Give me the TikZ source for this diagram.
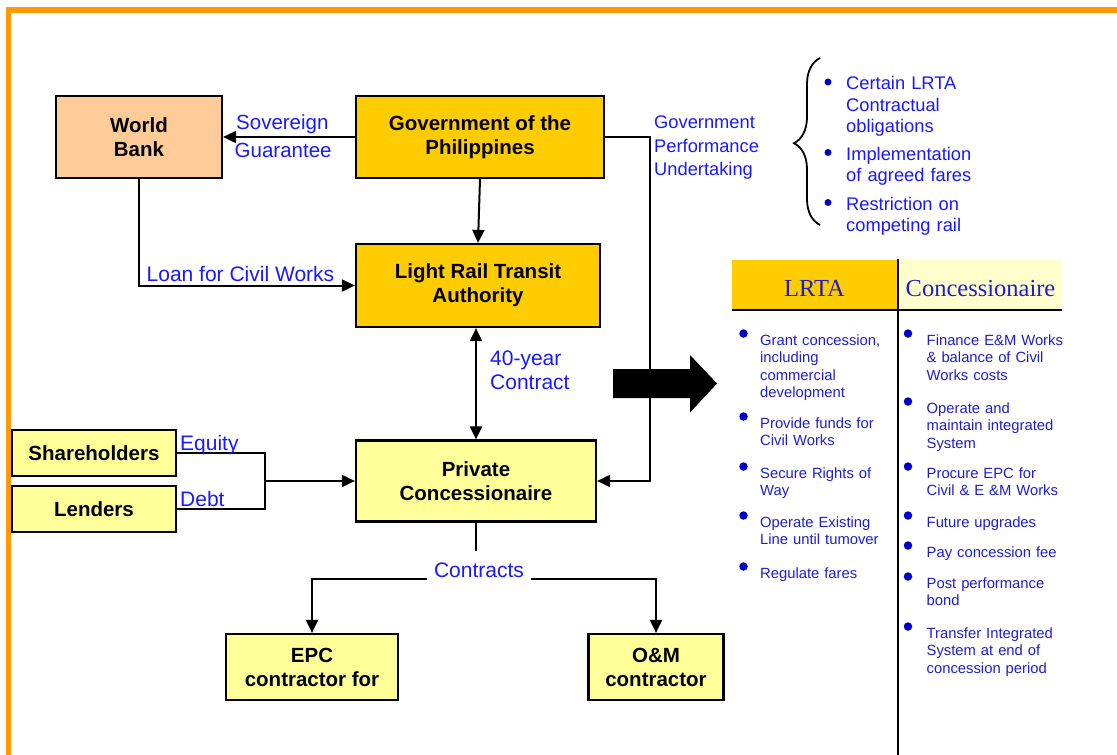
\documentclass[tikz,border=0pt]{standalone}
\usepackage{fontspec}
\setmainfont{Liberation Sans}
\newfontfamily\hdrfont{Liberation Serif}
\usetikzlibrary{arrows.meta,positioning,decorations.pathreplacing,calc}

\definecolor{govgold}{HTML}{FFCC00}
\definecolor{bankpeach}{HTML}{FFCC99}
\definecolor{conyellow}{HTML}{FFFF99}
\definecolor{palecream}{HTML}{FFFFCC}
\definecolor{frameorange}{HTML}{FF9900}
\definecolor{lblblue}{RGB}{25,25,255}
\definecolor{tabblue}{RGB}{30,30,205}
\definecolor{dotblue}{RGB}{0,0,205}

\tikzset{
  party/.style={draw, line width=2.2pt, align=center, inner sep=0pt,
    font=\bfseries\fontsize{20.5}{24}\selectfont},
  lbl/.style={text=lblblue, font=\fontsize{21}{23.5}\selectfont, inner sep=0pt, anchor=base west},
  lbllines/.style={lbl, text width=120pt, align=left},
  conn/.style={line width=2pt},
  hdr/.style={text=tabblue, font=\hdrfont\fontsize{24.5}{26}\selectfont, inner sep=0pt,
    minimum height=50pt, text height=22pt, text depth=0pt},
  tabitem/.style={text=tabblue, font=\fontsize{14.8}{17.5}\selectfont, inner sep=0pt,
    anchor=base west, text width=150pt, align=left},
  tabdot/.style={circle, fill=dotblue, inner sep=0pt, minimum size=8.5pt},
  obitem/.style={text=lblblue, font=\fontsize{18.3}{21.5}\selectfont, inner sep=0pt,
    anchor=base west, text width=150pt, align=left},
  obdot/.style={circle, fill=dotblue, inner sep=0pt, minimum size=7pt},
  >={Triangle[length=13pt,width=12pt]}
}

\begin{document}
\begin{tikzpicture}[x=1pt,y=-1pt]
  \useasboundingbox (0,0) rectangle (1117,755);
  \draw[frameorange, line width=5.3pt] (8.5,755) -- (8.5,10) -- (1117,10);

  % parties
  \node[party, fill=bankpeach, minimum width=166pt, minimum height=82pt] (wb) at (139,137) {World\\Bank};
  \node[party, fill=govgold, minimum width=248pt, minimum height=82pt] (gov) at (480,137) {Government of the\\Philippines};
  \node[party, fill=govgold, minimum width=244pt, minimum height=83pt] (lrta) at (478,285.5) {Light Rail Transit\\Authority};
  \node[party, fill=conyellow, minimum width=240pt, minimum height=81pt] (pc) at (476,481) {Private\\Concessionaire};
  \node[party, fill=conyellow, minimum width=164pt, minimum height=46pt] (sh) at (94,453) {Shareholders};
  \node[party, fill=conyellow, minimum width=164pt, minimum height=46pt] (ln) at (94,509) {Lenders};
  \node[party, fill=conyellow, minimum width=172pt, minimum height=66pt] (epc) at (312,667) {EPC\\contractor for};
  \node[party, fill=conyellow, minimum width=135pt, minimum height=66pt] (om) at (656,667) {O\&M\\contractor};

  % links
  \draw[conn,->] (gov.west) -- (wb.east);
  \node[lbl, font=\fontsize{20.5}{23.5}\selectfont] (sov) at (236,129.5) {Sovereign};
  \node[lbl, font=\fontsize{20.5}{23.5}\selectfont] (guar) at (234.5,157.5) {Guarantee};
  \draw[conn,->] (gov.south) -- (lrta.north);
  \draw[conn,->] (wb.south) |- (lrta.west);
  \node[lbl] (loan) at (146.5,281.5) {Loan for Civil Works};
  \draw[conn,<->] (pc.north |- lrta.south) -- (pc.north);
  \node[lbllines] (term) at (490,365.5) {40-year\\Contract};
  \draw[conn,->] (gov.east) -- ++(45,0) |- (pc.east);
  \node[lbllines, font=\fontsize{18.3}{23.5}\selectfont] (gpu) at (654,128.5) {Government\\Performance\\Undertaking};

  \coordinate (fund) at (265,481);
  \draw[conn] (sh.east) -| (fund) |- (ln.east);
  \draw[conn,->] (fund) -- (pc.west);
  \node[lbl] (eq) at (180,450) {Equity};
  \node[lbl] (debt) at (180,506) {Debt};

  \draw[conn] (pc.south) -- ++(0,28);
  \node[lbl, anchor=base, inner xsep=7pt] (contracts) at (479,577.5) {Contracts};
  \coordinate (split) at (476,579);
  \draw[conn,->] (split -| contracts.west) -| (epc.north);
  \draw[conn,->] (split -| contracts.east) -| (om.north);

  % big arrow
  \fill (613,369) -- (690,369) -- (690,355) -- (717,383.5) -- (690,412.5) -- (690,398) -- (613,398) -- cycle;

  % obligations
  \draw[line width=1.8pt, decorate, decoration={brace, amplitude=26pt, aspect=0.49}] (820,225) -- (820,58);
  \foreach \yb/\txt [count=\i] in {89.5/{Certain LRTA\\Contractual\\obligations}, 160/{Implementation\\of agreed fares}, 210/{Restriction on\\competing rail}}{
    \node[obdot] (odot\i) at (828,\yb-7.5) {};
    \node[obitem] (oitem\i) at (846,\yb) {\txt};
  }

  % table
  \node[hdr, fill=govgold, minimum width=165pt] (hl) at (814.5,285) {LRTA};
  \node[hdr, fill=palecream, minimum width=163pt] (hc) at (980.5,285) {Concessionaire};
  \draw[line width=2.2pt] (hl.south west) -- (hc.south east);
  \draw[line width=2.2pt] (898.3,259) -- (898.3,755);

  \foreach \yb/\txt [count=\i] in {345/{Grant concession,\\including\\commercial\\development}, 428/{Provide funds for\\Civil Works}, 478/{Secure Rights of\\Way}, 527/{Operate Existing\\Line until tumover}, 578/{Regulate fares}}{
    \node[tabdot] (ldot\i) at (743.5,\yb-11.5) {};
    \node[tabitem] (litem\i) at (760,\yb) {\txt};
  }
  \foreach \yb/\txt [count=\i] in {345/{Finance E\&M Works\\\& balance of Civil\\Works costs}, 413/{Operate and\\maintain integrated\\System}, 478/{Procure EPC for\\Civil \& E \&M Works}, 527/{Future upgrades}, 557/{Pay concession fee}, 588/{Post performance\\bond}, 638/{Transfer Integrated\\System at end of\\concession period}}{
    \node[tabdot] (rdot\i) at (908,\yb-11.5) {};
    \node[tabitem] (ritem\i) at (926.5,\yb) {\txt};
  }
\end{tikzpicture}
\end{document}
